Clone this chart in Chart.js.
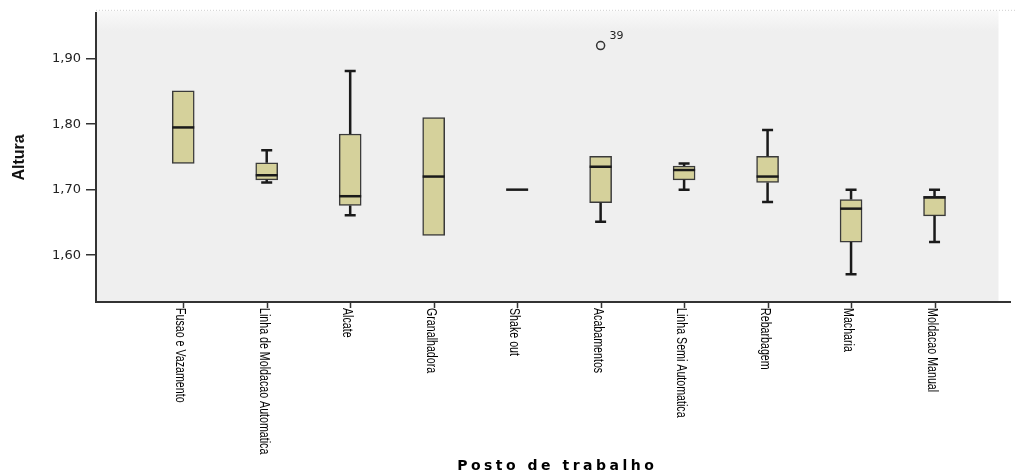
<!DOCTYPE html>
<html>
<head>
<meta charset="utf-8">
<script src="https://cdn.jsdelivr.net/npm/chart.js@4"></script>
<style>
  html, body { margin: 0; padding: 0; background: #fff; }
  #wrap { width: 1016px; height: 476px; }
</style>
</head>
<body>
<div id="wrap"><canvas id="boxChart"></canvas></div>
<script>
const categories = [
  'Fusao e Vazamento', 'Linha de Moldacao Automatica', 'Alcate', 'Granalhadora', 'Shake out',
  'Acabamentos', 'Linha Semi Automatica', 'Rebarbagem', 'Macharia', 'Moldacao Manual'
];

// box plot statistics per posto de trabalho
const whiskerLow  = [1.74, 1.711, 1.661, 1.63, 1.70, 1.651, 1.70, 1.681, 1.571, 1.62];
const q1          = [1.74, 1.715, 1.676, 1.63, 1.70, 1.68, 1.715, 1.711, 1.62, 1.66];
const median      = [1.795, 1.722, 1.69, 1.72, 1.70, 1.735, 1.73, 1.72, 1.671, 1.688];
const q3          = [1.851, 1.741, 1.785, 1.81, 1.70, 1.751, 1.736, 1.751, 1.685, 1.69];
const whiskerHigh = [1.851, 1.76, 1.881, 1.81, 1.70, 1.751, 1.74, 1.791, 1.70, 1.70];

const outlierIndex = [5];
const outlierValue = [1.92];
const outlierCase  = ['39'];

const yTicks = [1.60, 1.70, 1.80, 1.90];

const boxFill = '#d5d19b';
const ink = '#1a1a1a';

const boxPlotPlugin = {
  id: 'boxPlot',
  beforeDraw(chart) {
    const { ctx, chartArea: a } = chart;
    ctx.save();
    ctx.fillStyle = '#fff';
    ctx.fillRect(0, 0, chart.width, chart.height);
    const g = ctx.createLinearGradient(0, a.top - 2, 0, a.top + 18);
    g.addColorStop(0, '#f9f9f9');
    g.addColorStop(1, '#efefef');
    ctx.fillStyle = g;
    ctx.fillRect(a.left, a.top - 2, a.right - a.left - 12, a.bottom - a.top + 2);
    ctx.strokeStyle = '#cfcfcf';
    ctx.setLineDash([1, 2]);
    ctx.lineWidth = 1;
    ctx.beginPath();
    ctx.moveTo(a.left, a.top - 2.5);
    ctx.lineTo(chart.width, a.top - 2.5);
    ctx.stroke();
    ctx.restore();
  },
  afterDatasetsDraw(chart) {
    const { ctx } = chart;
    const xs = chart.scales.x, ys = chart.scales.y;
    ctx.save();
    ctx.strokeStyle = ink;
    ctx.lineCap = 'butt';
    categories.forEach((c, i) => {
      const px = xs.getPixelForValue(i);
      ctx.lineWidth = 2.5;
      if (whiskerHigh[i] > q3[i]) {
        const yTop = ys.getPixelForValue(whiskerHigh[i]);
        ctx.beginPath();
        ctx.moveTo(px, ys.getPixelForValue(q3[i]));
        ctx.lineTo(px, yTop);
        ctx.moveTo(px - 5.5, yTop);
        ctx.lineTo(px + 5.5, yTop);
        ctx.stroke();
      }
      if (whiskerLow[i] < q1[i]) {
        const yBot = ys.getPixelForValue(whiskerLow[i]);
        ctx.beginPath();
        ctx.moveTo(px, ys.getPixelForValue(q1[i]));
        ctx.lineTo(px, yBot);
        ctx.moveTo(px - 5.5, yBot);
        ctx.lineTo(px + 5.5, yBot);
        ctx.stroke();
      }
      const ym = ys.getPixelForValue(median[i]);
      ctx.beginPath();
      ctx.moveTo(px - 11, ym);
      ctx.lineTo(px + 11, ym);
      ctx.stroke();
    });
    ctx.restore();
  },
  afterDraw(chart) {
    const { ctx, chartArea: a } = chart;
    const xs = chart.scales.x, ys = chart.scales.y;
    ctx.save();

    // category tick marks below the x axis
    ctx.strokeStyle = '#333';
    ctx.lineWidth = 1.5;
    categories.forEach((c, i) => {
      const px = Math.round(xs.getPixelForValue(i)) + 0.5;
      ctx.beginPath();
      ctx.moveTo(px, xs.top);
      ctx.lineTo(px, xs.top + 6);
      ctx.stroke();
    });

    ctx.fillStyle = '#000';
    // narrow look: squeeze Liberation Sans along the text direction
    ctx.font = '13px "Liberation Sans", Arial, sans-serif';
    ctx.textAlign = 'left';
    ctx.textBaseline = 'middle';
    categories.forEach((c, i) => {
      ctx.save();
      ctx.translate(xs.getPixelForValue(i) - 3, xs.top + 6);
      ctx.rotate(Math.PI / 2);
      ctx.scale(0.82, 1.1);
      ctx.fillText(c, 0, 0);
      ctx.restore();
    });

    // case numbers next to outliers
    ctx.font = '11px "DejaVu Sans", sans-serif';
    ctx.fillStyle = '#222';
    outlierIndex.forEach((idx, k) => {
      ctx.fillText(outlierCase[k], xs.getPixelForValue(idx) + 9, ys.getPixelForValue(outlierValue[k]) - 9);
    });

    ctx.fillStyle = '#000';
    ctx.font = 'bold 14px "DejaVu Sans", sans-serif';
    ctx.letterSpacing = '3.5px';
    ctx.textAlign = 'center';
    ctx.fillText('Posto de trabalho', (a.left + a.right) / 2 + 4, 466);
    ctx.restore();
  }
};

const ctx = document.getElementById('boxChart').getContext('2d');

new Chart(ctx, {
  type: 'bar',
  data: {
    datasets: [
      {
        type: 'bar',
        label: 'Altura',
        data: categories.map((c, i) => ({ x: i, y: [q1[i], q3[i]] })),
        backgroundColor: boxFill,
        borderColor: '#3a3a3a',
        borderWidth: 1.5,
        borderSkipped: false,
        barThickness: 22,
      },
      {
        type: 'scatter',
        label: 'Outliers',
        data: outlierIndex.map((idx, k) => ({ x: idx, y: outlierValue[k] })),
        pointStyle: 'circle',
        pointRadius: 4,
        backgroundColor: 'rgba(0,0,0,0)',
        borderColor: '#333',
        borderWidth: 1.5,
      }
    ]
  },
  options: {
    responsive: true,
    maintainAspectRatio: false,
    animation: false,
    events: [],
    layout: { padding: { top: 12, right: 2, left: 0, bottom: 0 } },
    plugins: {
      legend: { display: false },
      tooltip: { enabled: false }
    },
    scales: {
      x: {
        type: 'linear',
        min: -1.045,
        max: 9.91,
        offset: false,
        afterBuildTicks: (scale) => { scale.ticks = categories.map((c, i) => ({ value: i })); },
        afterFit: (scale) => { scale.height = 174; },
        ticks: { display: false },
        grid: { display: false },
        border: { display: true, color: '#333', width: 2 }
      },
      y: {
        min: 1.5285,
        max: 1.97,
        afterBuildTicks: (scale) => { scale.ticks = yTicks.map(v => ({ value: v })); },
        afterFit: (scale) => { scale.width = 96; },
        ticks: {
          padding: 5,
          color: '#222',
          font: { family: '"DejaVu Sans", sans-serif', size: 13 },
          callback: (v) => Number(v).toFixed(2).replace('.', ',')
        },
        grid: { drawOnChartArea: false, drawTicks: true, tickLength: 10, color: '#333', lineWidth: 1.5 },
        border: { color: '#333', width: 2 },
        title: {
          display: true,
          text: 'Altura',
          color: '#111',
          padding: { top: 10, bottom: 0 },
          font: { family: '"Liberation Sans", Arial, sans-serif', size: 16, weight: 'bold' }
        }
      }
    }
  },
  plugins: [boxPlotPlugin]
});
</script>
</body>
</html>
